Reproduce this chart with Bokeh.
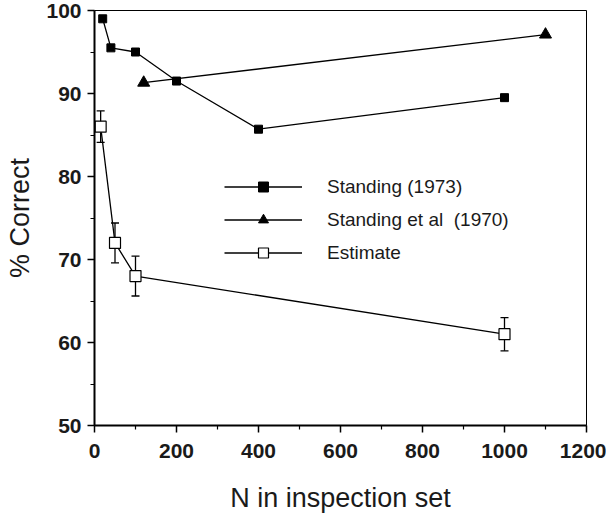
from bokeh.plotting import figure
from bokeh.models import (ColumnDataSource, Legend, LegendItem, Whisker, TeeHead,
                          FixedTicker)
from bokeh.embed import file_html
from bokeh.resources import INLINE

# --- data ---
standing73_n = [20, 40, 100, 200, 400, 1000]
standing73_pct = [99.0, 95.5, 95.0, 91.5, 85.7, 89.5]

standing70_n = [120, 1100]
standing70_pct = [91.3, 97.1]

estimate_n = [15, 50, 100, 1000]
estimate_pct = [86.0, 72.0, 68.0, 61.0]
estimate_err = [1.9, 2.4, 2.4, 2.0]

x_ticks = [0, 200, 400, 600, 800, 1000, 1200]
x_minor = [100, 300, 500, 700, 900, 1100]
y_ticks = [50, 60, 70, 80, 90, 100]
y_minor = [55, 65, 75, 85, 95]

labels = ["Standing (1973)", "Standing et al  (1970)", "Estimate"]

FONT = "Liberation Sans"

p = figure(width=606, height=515, x_range=(0, 1200), y_range=(50, 100),
           output_backend="svg", toolbar_location=None,
           min_border_left=94, min_border_right=20, min_border_top=10,
           min_border_bottom=89,
           x_axis_label="N in inspection set", y_axis_label="% Correct")

p.grid.visible = False
p.outline_line_color = "black"
p.outline_line_width = 1
p.background_fill_color = "white"
p.border_fill_color = "white"

p.xaxis.ticker = FixedTicker(ticks=x_ticks, minor_ticks=x_minor)
p.yaxis.ticker = FixedTicker(ticks=y_ticks, minor_ticks=y_minor)

for ax in (p.xaxis[0], p.yaxis[0]):
    ax.axis_line_width = 2
    ax.axis_line_color = "black"
    ax.major_tick_line_color = "black"
    ax.minor_tick_line_color = "black"
    ax.major_tick_line_width = 1.5
    ax.minor_tick_line_width = 1.2
    ax.major_tick_in = 0
    ax.major_tick_out = 7
    ax.minor_tick_in = 0
    ax.minor_tick_out = 4
    ax.major_label_text_font = FONT
    ax.major_label_text_font_style = "bold"
    ax.major_label_text_font_size = "21px"
    ax.major_label_text_color = "#1a1a1a"
    ax.axis_label_text_font = FONT
    ax.axis_label_text_font_style = "normal"
    ax.axis_label_text_font_size = "27px"
    ax.axis_label_text_color = "#1a1a1a"

p.xaxis.major_label_standoff = 11
p.xaxis.axis_label_standoff = 22
p.yaxis.major_label_standoff = 6
p.yaxis.axis_label_standoff = 8

# Standing (1973)
l1 = p.line(standing73_n, standing73_pct, line_color="black", line_width=1.3)
s1 = p.scatter(standing73_n, standing73_pct, marker="square", size=8,
               fill_color="black", line_color="black")

# Standing et al (1970)
l2 = p.line(standing70_n, standing70_pct, line_color="black", line_width=1.3)
s2 = p.scatter(standing70_n, standing70_pct, marker="triangle", size=12,
               fill_color="black", line_color="black")

# Estimate with error bars
src = ColumnDataSource(dict(
    x=estimate_n, y=estimate_pct,
    upper=[v + e for v, e in zip(estimate_pct, estimate_err)],
    lower=[v - e for v, e in zip(estimate_pct, estimate_err)],
))
wh = Whisker(source=src, base="x", upper="upper", lower="lower",
             line_color="black", line_width=1.3, level="underlay",
             upper_head=TeeHead(size=8, line_color="black", line_width=1.3),
             lower_head=TeeHead(size=8, line_color="black", line_width=1.3))
p.add_layout(wh)
l3 = p.line("x", "y", source=src, line_color="black", line_width=1.3)
s3 = p.scatter("x", "y", source=src, marker="square", size=11,
               fill_color="white", line_color="black", line_width=1.2)

legend = Legend(items=[
    LegendItem(label=labels[0], renderers=[l1, s1]),
    LegendItem(label=labels[1], renderers=[l2, s2]),
    LegendItem(label=labels[2], renderers=[l3, s3]),
], location=(130, 160))
legend.label_text_font = FONT
legend.label_text_font_size = "19px"
legend.label_text_color = "#1a1a1a"
legend.glyph_width = 78
legend.glyph_height = 25
legend.label_height = 25
legend.label_standoff = 25
legend.spacing = 8
legend.padding = 0
legend.margin = 0
legend.border_line_color = None
legend.background_fill_alpha = 0
p.add_layout(legend)

open("out.html", "w").write(file_html(p, INLINE))
